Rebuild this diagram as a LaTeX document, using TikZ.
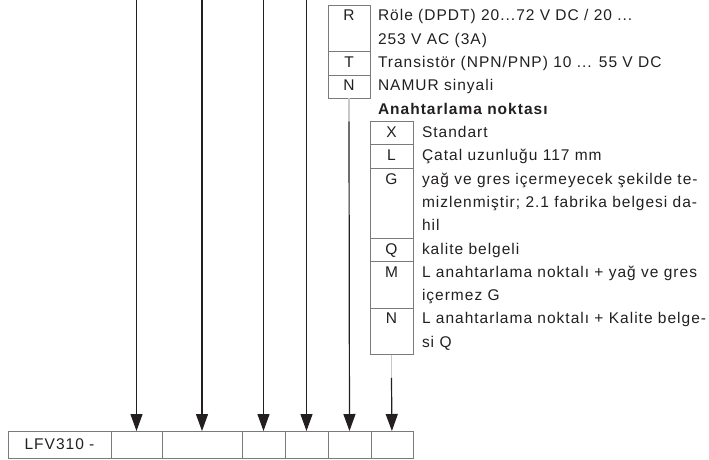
\documentclass[tikz,border=0pt]{standalone}
\usepackage{fontspec}
\setmainfont[LetterSpace=6.5]{Liberation Sans}
\usetikzlibrary{arrows.meta,positioning}
\definecolor{ink}{HTML}{231F20}
\definecolor{rulegray}{HTML}{7A7A7A}
\definecolor{stemgray}{HTML}{C8C8C8}
\newcommand{\fl}{\rule{0pt}{16pt}}

\begin{document}
\begin{tikzpicture}[x=1pt,y=-1pt,>={Triangle[width=12pt,length=17pt]},
  font=\fontsize{15.5}{23.3}\selectfont, text=ink,
  cell/.style={draw=rulegray,line width=0.8pt,minimum height=27pt,inner sep=0pt,outer sep=0pt},
  letter/.style={draw=rulegray,line width=0.8pt,minimum width=42pt,inner sep=0pt,outer sep=0pt,text height=16pt,text depth=#1},
  letter/.default=7.3pt,
  txt/.style={anchor=north west,inner sep=0pt,outer sep=0pt,align=left},
  wire/.style={->,color=ink,line width=1.2pt},
  stemline/.style={draw=stemgray,line width=1.2pt}]
\useasboundingbox (0,0) rectangle (709,460);

% code row
\node[cell,minimum width=103pt,anchor=north west] (c0) at (8,431) {LFV310 -};
\node[cell,minimum width=51pt,right=0pt of c0] (c1) {};
\node[cell,minimum width=80pt,right=0pt of c1] (c2) {};
\node[cell,minimum width=43pt,right=0pt of c2] (c3) {};
\node[cell,minimum width=43pt,right=0pt of c3] (c4) {};
\node[cell,minimum width=43pt,right=0pt of c4] (c5) {};
\node[cell,minimum width=42pt,right=0pt of c5] (c6) {};

% output
\node[letter=30.6pt,anchor=north west] (kR) at (328,5) {R};
\node[letter,below=0pt of kR] (kT) {T};
\node[letter,below=0pt of kT] (kN) {N};
\node[txt] (tR) at ([xshift=8pt]kR.north east) {\fl Röle (DPDT) 20...72 V DC / 20 ...\\253 V AC (3A)};
\node[txt] (tT) at ([xshift=8pt]kT.north east) {\fl Transistör (NPN/PNP) 10 ... 55 V DC};
\node[txt] (tN) at ([xshift=8pt]kN.north east) {\fl NAMUR sinyali};

% switching point
\node[txt] (hd) at ([xshift=8pt]kN.south east) {\fl\bfseries Anahtarlama noktası};
\node[letter,minimum width=43pt,anchor=north west] (k2X) at (370,121.5) {X};
\node[letter,minimum width=43pt,below=0pt of k2X] (k2L) {L};
\node[letter=53.9pt,minimum width=43pt,below=0pt of k2L] (k2G) {G};
\node[letter,minimum width=43pt,below=0pt of k2G] (k2Q) {Q};
\node[letter=30.6pt,minimum width=43pt,below=0pt of k2Q] (k2M) {M};
\node[letter=30.6pt,minimum width=43pt,below=0pt of k2M] (k2N) {N};
\node[txt] (t2X) at ([xshift=9pt]k2X.north east) {\fl Standart};
\node[txt] (t2L) at ([xshift=9pt]k2L.north east) {\fl Çatal uzunluğu 117 mm};
\node[txt] (t2G) at ([xshift=9pt]k2G.north east) {\fl yağ ve gres içermeyecek şekilde te-\\mizlenmiştir; 2.1 fabrika belgesi da-\\hil};
\node[txt] (t2Q) at ([xshift=9pt]k2Q.north east) {\fl kalite belgeli};
\node[txt] (t2M) at ([xshift=9pt]k2M.north east) {\fl L anahtarlama noktalı + yağ ve gres\\içermez G};
\node[txt] (t2N) at ([xshift=9pt]k2N.north east) {\fl L anahtarlama noktalı + Kalite belge-\\si Q};

% arrows
\coordinate (top) at (0,0);
\coordinate (s1) at (c1.north |- top);
\coordinate (s2) at (c2.north |- top);
\coordinate (s3) at (c3.north |- top);
\coordinate (s4) at (c4.north |- top);
\coordinate (j1) at (kN.south |- k2X.north);
\coordinate[below=23.3pt of k2N] (j2);
\draw[stemline] (kN) -- (j1);
\draw[stemline] (k2N) -- (j2);
\path[wire] (s1) edge (c1)
   (s2) edge (c2)
   (s3) edge (c3)
   (s4) edge (c4)
   (j1) edge (c5)
   (j2) edge (c6)
;
\end{tikzpicture}
\end{document}
